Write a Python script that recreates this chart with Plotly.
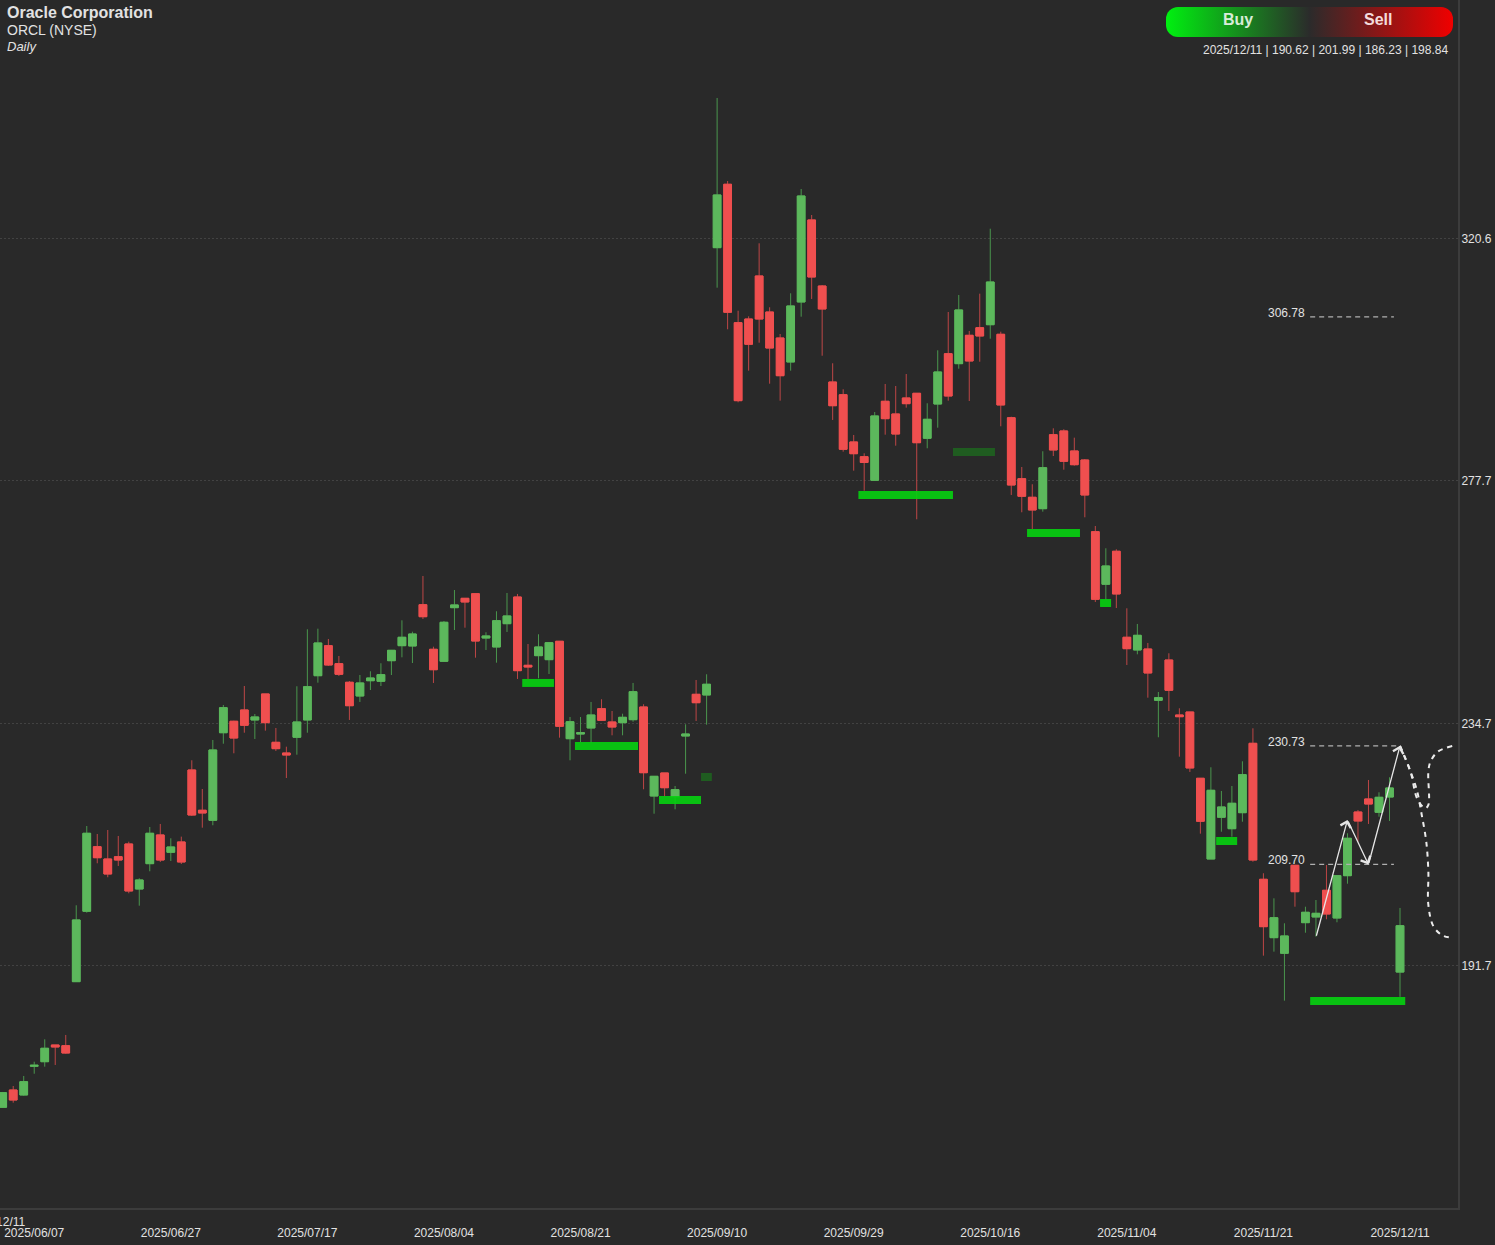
"""
plot.py
-------
Oracle (ORCL) daily candles with support zones, swing levels and projected paths.
"""

import base64

import plotly.graph_objects as go

# ---------------------------------------------------------------------------
# Data
# ---------------------------------------------------------------------------
opens = [
    166.65, 169.71, 168.83, 173.92, 174.73, 177.69, 177.57, 188.92, 201.40, 212.85,
    210.67, 211.08, 213.33, 205.35, 209.84, 214.93, 211.86, 213.69, 226.45, 219.31,
    217.53, 233.06, 235.09, 237.09, 235.32, 239.93, 231.36, 229.46, 232.25, 235.32,
    243.17, 248.49, 245.30, 242.00, 239.57, 242.28, 242.18, 245.83, 248.49, 248.44,
    255.76, 247.85, 245.72, 255.23, 256.89, 257.71, 249.85, 248.26, 252.39, 257.12,
    245.01, 246.72, 246.01, 249.27, 232.00, 232.83, 233.90, 237.32, 234.96, 234.84,
    235.37, 237.62, 221.84, 225.92, 221.72, 232.48, 239.87, 239.75, 319.06, 330.30,
    305.76, 306.41, 314.04, 307.65, 303.04, 298.79, 309.43, 323.97, 312.26, 295.24,
    292.99, 284.61, 282.00, 277.81, 291.82, 289.57, 292.41, 293.24, 285.26, 291.34,
    300.26, 298.49, 303.52, 304.87, 305.40, 303.70, 288.91, 278.10, 274.80, 272.78,
    285.90, 286.56, 283.01, 281.41, 268.70, 259.38, 265.23, 249.98, 247.73, 247.90,
    238.81, 245.95, 236.20, 236.73, 224.98, 210.67, 218.07, 216.04, 218.88, 231.18,
    207.07, 196.72, 193.95, 209.55, 199.38, 200.39, 205.12, 200.21, 207.71, 219.00,
    221.31, 218.95, 221.66, 190.62,
]
highs = [
    169.36, 170.42, 172.20, 174.73, 178.70, 177.69, 179.47, 202.46, 216.52, 215.10,
    215.81, 214.75, 213.74, 207.25, 216.34, 216.88, 214.34, 214.63, 228.17, 223.08,
    231.77, 237.98, 235.19, 241.34, 236.38, 239.93, 233.90, 230.58, 241.29, 251.40,
    251.50, 249.68, 246.66, 242.23, 243.29, 243.95, 245.37, 247.73, 252.99, 250.97,
    260.85, 248.31, 252.87, 258.36, 256.89, 257.71, 250.87, 254.59, 257.83, 257.66,
    248.79, 250.51, 249.02, 249.27, 235.85, 235.85, 238.51, 238.99, 236.91, 236.43,
    241.88, 238.10, 225.33, 225.92, 223.61, 234.55, 242.41, 243.42, 345.60, 330.88,
    307.88, 306.89, 319.83, 308.49, 303.75, 310.97, 329.46, 324.85, 312.44, 298.56,
    293.95, 285.85, 282.60, 289.92, 294.89, 294.53, 296.66, 293.24, 291.47, 300.86,
    307.65, 310.67, 304.29, 310.90, 322.42, 304.16, 289.09, 280.17, 277.11, 282.96,
    287.03, 286.86, 285.37, 281.59, 269.71, 265.76, 265.58, 255.12, 252.34, 248.97,
    240.28, 247.14, 237.39, 236.73, 224.98, 226.93, 222.73, 223.61, 227.99, 233.84,
    208.14, 203.70, 199.27, 209.55, 202.21, 203.40, 209.61, 207.71, 215.23, 219.36,
    224.68, 222.50, 225.16, 201.99,
]
lows = [
    166.52, 167.46, 168.70, 172.60, 173.85, 174.15, 176.15, 188.86, 201.15, 209.91,
    207.43, 209.43, 204.59, 202.39, 208.49, 210.14, 210.32, 209.78, 218.30, 216.22,
    216.65, 231.11, 229.41, 233.06, 231.95, 233.42, 229.82, 225.03, 229.16, 233.06,
    241.93, 244.89, 243.12, 235.32, 238.51, 240.63, 241.34, 243.29, 246.43, 245.42,
    253.22, 241.88, 245.72, 251.27, 251.68, 246.36, 247.73, 245.48, 250.92, 242.59,
    242.59, 242.71, 243.47, 232.18, 228.17, 231.36, 231.29, 235.19, 232.60, 232.60,
    235.01, 223.03, 218.70, 221.72, 219.48, 225.79, 235.14, 234.48, 311.96, 304.59,
    291.64, 297.25, 302.21, 294.94, 291.93, 297.25, 306.82, 309.96, 299.90, 288.51,
    282.89, 279.52, 275.97, 277.81, 285.90, 283.95, 290.69, 270.90, 283.49, 287.14,
    291.93, 297.60, 291.87, 298.84, 302.92, 287.39, 275.21, 272.14, 269.18, 272.25,
    282.12, 279.69, 280.40, 271.25, 256.24, 256.59, 255.17, 245.07, 246.96, 239.27,
    232.25, 236.91, 228.81, 226.10, 215.16, 210.67, 215.51, 214.63, 217.28, 210.19,
    193.53, 194.24, 185.55, 202.21, 197.60, 196.89, 199.98, 199.45, 206.29, 213.74,
    216.88, 218.17, 217.41, 186.23,
]
closes = [
    169.24, 167.94, 171.19, 174.09, 177.11, 177.34, 176.27, 199.86, 215.23, 210.90,
    208.01, 210.49, 205.00, 206.95, 215.23, 210.49, 212.80, 210.14, 218.47, 218.83,
    230.00, 237.50, 232.12, 234.38, 235.85, 234.84, 230.23, 229.11, 234.96, 241.22,
    248.97, 245.07, 243.42, 237.85, 241.88, 242.76, 243.35, 247.67, 249.98, 250.56,
    253.63, 244.23, 252.64, 255.71, 256.24, 249.32, 250.21, 252.92, 253.76, 244.06,
    244.71, 248.26, 249.02, 234.20, 235.01, 233.06, 236.20, 235.26, 234.07, 235.79,
    240.33, 225.97, 225.33, 223.31, 222.96, 232.83, 238.38, 241.65, 328.40, 307.60,
    291.93, 301.93, 306.41, 301.27, 296.36, 308.72, 328.22, 313.86, 308.19, 291.04,
    283.31, 282.53, 280.97, 289.22, 288.74, 286.02, 291.40, 284.48, 288.63, 297.02,
    292.76, 308.01, 298.97, 303.40, 312.97, 291.17, 276.98, 274.98, 272.55, 280.05,
    283.19, 281.18, 280.58, 275.21, 256.72, 262.62, 257.66, 247.96, 250.33, 243.65,
    239.27, 240.58, 235.90, 226.81, 217.36, 222.85, 219.89, 220.55, 225.62, 210.49,
    198.67, 200.26, 197.02, 204.87, 201.22, 201.04, 200.92, 207.71, 214.34, 217.41,
    220.42, 221.61, 223.26, 198.84,
]

tick_labels = [
    "2025/06/07", "2025/06/27", "2025/07/17", "2025/08/04", "2025/08/21", "2025/09/10",
    "2025/09/29", "2025/10/16", "2025/11/04", "2025/11/21", "2025/12/11",
]
tick_bars = list(range(3, 134, 13))
price_ticks = [191.7, 234.7, 277.7, 320.6]

# support zones: first bar, last bar, price
zone_starts = [49.45, 54.47, 62.47, 81.45, 97.5, 104.45, 115.5, 124.45]
zone_ends = [52.47, 60.47, 66.47, 90.45, 102.54, 105.5, 117.5, 133.5]
zone_prices = [241.88, 230.70, 221.13, 275.21, 268.47, 256.06, 213.86, 185.50]

# older, faded zones
faded_starts = [66.47, 90.45]
faded_ends = [67.5, 94.45]
faded_prices = [225.21, 282.83]

# swing levels
level_prices = [306.78, 230.73, 209.70]
level_ends = [132.42, 133.0, 132.42]
LEVEL_START = 124.45

# swing arrows and projected paths
swing_bars = [125, 128, 130, 133]
swing_prices = [196.79, 217.59, 209.70, 230.73]
down_path_bars = [133, 134, 134.6, 135.07, 135.5, 135.7, 135.7, 136.2, 137.1, 138]
down_path_prices = [230.73, 226.15, 222.9, 218.47, 213.74, 208.42, 202.52, 198.67, 197.07, 196.72]
up_path_bars = [133, 134, 134.65, 135.4, 135.7, 135.7, 135.9, 136.6, 138]
up_path_prices = [230.73, 226.15, 221.31, 219.66, 220.25, 226.15, 227.92, 229.7, 230.73]

# ---------------------------------------------------------------------------
# Styling
# ---------------------------------------------------------------------------
WIDTH, HEIGHT = 1495, 1245
PLOT_W, PLOT_H = 1458, 1208
BAR_PX = 10.506
BG = "#292929"
UP = "#5cb85c"
DOWN = "#ef4f4f"
UP_WICK = "#4a964d"
DOWN_WICK = "#bd4646"
ZONE = "rgba(5,210,15,0.9)"
FADED = "#1f5c20"
TEXT = "#e2e2e2"
FONT = "Liberation Sans"

X_RANGE = [-2.7 / BAR_PX, (PLOT_W - 2.7) / BAR_PX]
Y_RANGE = [148.79, 362.97]

PILL_SVG = """<svg xmlns="http://www.w3.org/2000/svg" width="287" height="30" viewBox="0 0 287 30">
<defs><linearGradient id="g"><stop offset="0" stop-color="#00f010"/><stop offset="0.5" stop-color="#2b2b2b"/>
<stop offset="1" stop-color="#f00000"/></linearGradient></defs>
<rect width="287" height="30" rx="12" fill="url(#g)"/></svg>"""


def px_x(x):
    return x / PLOT_W


def px_y(y):
    return 1 - y / PLOT_H


def label(text, x, y, size, anchor="left", color=TEXT):
    return dict(
        text=text, xref="paper", yref="paper", x=px_x(x), y=px_y(y),
        xanchor=anchor, yanchor="middle", showarrow=False,
        font=dict(family=FONT, size=size, color=color),
    )


fig = go.Figure()

bars = list(range(len(opens)))

# wicks first, in their dimmer colours, then the bodies on top
fig.add_trace(go.Candlestick(
    x=bars,
    open=opens, high=highs, low=lows, close=closes,
    increasing=dict(line=dict(color=UP_WICK, width=1), fillcolor=UP_WICK),
    decreasing=dict(line=dict(color=DOWN_WICK, width=1), fillcolor=DOWN_WICK),
    whiskerwidth=0,
    showlegend=False,
    hoverinfo="skip",
))
fig.add_trace(go.Candlestick(
    x=bars,
    open=opens,
    high=[max(o, c) for o, c in zip(opens, closes)],
    low=[min(o, c) for o, c in zip(opens, closes)],
    close=closes,
    increasing=dict(line=dict(color=UP, width=1), fillcolor=UP),
    decreasing=dict(line=dict(color=DOWN, width=1), fillcolor=DOWN),
    whiskerwidth=0,
    showlegend=False,
    hoverinfo="skip",
))

# ── Zones ───────────────────────────────────────────────────────────────────
for x0, x1, p in zip(faded_starts, faded_ends, faded_prices):
    fig.add_trace(go.Scatter(x=[x0, x1], y=[p, p], mode="lines", showlegend=False,
                             line=dict(color=FADED, width=8), hoverinfo="skip"))
for x0, x1, p in zip(zone_starts, zone_ends, zone_prices):
    fig.add_trace(go.Scatter(x=[x0, x1], y=[p, p], mode="lines", showlegend=False,
                             line=dict(color=ZONE, width=8), hoverinfo="skip"))

# ── Swing levels ────────────────────────────────────────────────────────────
annotations = []
for p, x1 in zip(level_prices, level_ends):
    fig.add_trace(go.Scatter(x=[LEVEL_START, x1], y=[p, p], mode="lines", showlegend=False,
                             line=dict(color="#b0b0b0", width=1.2, dash="5px,4px"), hoverinfo="skip"))
    annotations.append(dict(
        text=f"{p:.2f}", x=LEVEL_START, y=p, xanchor="right", yanchor="middle",
        xshift=-3, yshift=4, showarrow=False,
        font=dict(family=FONT, size=12, color=TEXT),
    ))

# ── Projected paths ─────────────────────────────────────────────────────────
for xs, ys in [(down_path_bars, down_path_prices), (up_path_bars, up_path_prices)]:
    fig.add_trace(go.Scatter(x=xs, y=ys, mode="lines", showlegend=False,
                             line=dict(color="#ececec", width=2, dash="5px,5px", shape="spline"),
                             hoverinfo="skip"))

# ── Swing arrows ────────────────────────────────────────────────────────────
for i in range(len(swing_bars) - 1):
    annotations.append(dict(
        x=swing_bars[i + 1], y=swing_prices[i + 1],
        ax=swing_bars[i], ay=swing_prices[i], axref="x", ayref="y",
        text="", showarrow=True, arrowhead=4, arrowsize=1.6, arrowwidth=1.3,
        arrowcolor="#e6e6e6",
    ))

# ── Header texts ────────────────────────────────────────────────────────────
annotations += [
    label("<b>Oracle Corporation</b>", 5, 12, 16),
    label("ORCL (NYSE)", 5, 30, 14),
    label("<i>Daily</i>", 5, 46, 13),
    label("<b>Buy</b>", 1238, 20, 16, "center", "#d8ecd8"),
    label("<b>Sell</b>", 1378, 20, 16, "center", "#f3dcdc"),
    label("2025/12/11 | 190.62 | 201.99 | 186.23 | 198.84", 1450, 50, 12, "right"),
    label("2025/12/11", 27, 1222, 12, "right"),
]

fig.update_layout(
    width=WIDTH,
    height=HEIGHT,
    paper_bgcolor=BG,
    plot_bgcolor=BG,
    margin=dict(l=0, r=WIDTH - PLOT_W, t=0, b=HEIGHT - PLOT_H, pad=0),
    boxgap=0.2,
    boxgroupgap=0.08,
    boxmode="overlay",
    showlegend=False,
    font=dict(family=FONT, size=12, color=TEXT),
    annotations=annotations,
    images=[dict(
        source="data:image/svg+xml;base64," + base64.b64encode(PILL_SVG.encode()).decode(),
        xref="paper", yref="paper", x=px_x(1166), y=px_y(7),
        sizex=287 / PLOT_W, sizey=30 / PLOT_H, sizing="stretch",
        xanchor="left", yanchor="top", layer="below",
    )],
)
fig.update_xaxes(
    range=X_RANGE,
    tickvals=tick_bars,
    ticktext=tick_labels,
    showgrid=False,
    zeroline=False,
    showline=True,
    linecolor="#3c3c3c",
    linewidth=2,
    ticks="",
    ticklabelstandoff=13,
    rangeslider=dict(visible=False),
)
fig.update_yaxes(
    range=Y_RANGE,
    side="right",
    tickvals=price_ticks,
    ticktext=[f"{p:.1f}" for p in price_ticks],
    showgrid=True,
    gridcolor="#424242",
    griddash="2px,2px",
    gridwidth=1,
    zeroline=False,
    showline=True,
    linecolor="#3c3c3c",
    linewidth=2,
    ticks="",
    ticklabelstandoff=-1,
)

fig.write_html(
    "out.html",
    config=dict(displayModeBar=False),
    post_script="document.body.style.margin='0';",
)
